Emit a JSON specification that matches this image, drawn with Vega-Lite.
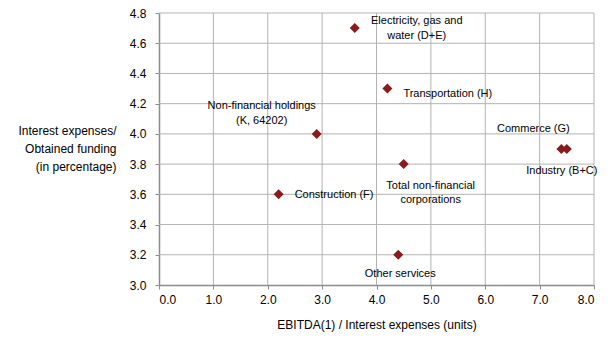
{
  "$schema": "https://vega.github.io/schema/vega-lite/v6.json",
  "width": 435,
  "height": 272,
  "autosize": "none",
  "padding": {"left": 159, "top": 13, "right": 17, "bottom": 55},
  "background": "white",
  "title": {"text": "September 2020", "fontWeight": "bold", "fontSize": 13, "font": "Liberation Sans", "offset": 10, "dx": 20, "color": "#000"},
  "config": {"view": {"stroke": null}},
  "datasets": {
    "points": [
      {"name": "Electricity", "x": 3.6, "y": 4.7},
      {"name": "Transportation", "x": 4.2, "y": 4.3},
      {"name": "Holdings", "x": 2.9, "y": 4.0},
      {"name": "Commerce", "x": 7.4, "y": 3.9},
      {"name": "Industry", "x": 7.5, "y": 3.9},
      {"name": "Total", "x": 4.5, "y": 3.8},
      {"name": "Construction", "x": 2.2, "y": 3.6},
      {"name": "Other", "x": 4.4, "y": 3.2}
    ],
    "gridx": [{"x": 1}, {"x": 2}, {"x": 3}, {"x": 4}, {"x": 5}, {"x": 6}, {"x": 7}, {"x": 8}],
    "gridy": [{"y": 3.2}, {"y": 3.4}, {"y": 3.6}, {"y": 3.8}, {"y": 4.0}, {"y": 4.2}, {"y": 4.4}, {"y": 4.6}, {"y": 4.8}]
  },
  "layer": [
    {"data": {"name": "gridx"}, "mark": {"type": "rule", "color": "#b3b3b3", "strokeWidth": 1},
      "encoding": {"x": {"field": "x", "type": "quantitative", "scale": {"domain": [0, 8], "nice": false},
        "axis": {"grid": false, "domainColor": "#8c8c8c", "domainWidth": 1.5, "tickColor": "#8c8c8c", "tickSize": 4, "labelFont": "Liberation Sans", "labelFontSize": 12, "labelColor": "#000", "titleFont": "Liberation Sans", "titleFontSize": 12, "titleFontWeight": "normal", "titleColor": "#000", "values": [0,1,2,3,4,5,6,7,8], "format": ".1f", "title": "EBITDA(1) / Interest expenses (units)", "titlePadding": 14, "labelPadding": 5}}}},
    {"data": {"name": "gridy"}, "mark": {"type": "rule", "color": "#b3b3b3", "strokeWidth": 1},
      "encoding": {"y": {"field": "y", "type": "quantitative", "scale": {"domain": [3.0, 4.8], "nice": false, "zero": false},
        "axis": {"grid": false, "domainColor": "#8c8c8c", "domainWidth": 1.5, "tickColor": "#8c8c8c", "tickSize": 4, "labelFont": "Liberation Sans", "labelFontSize": 12, "labelColor": "#000", "titleFont": "Liberation Sans", "titleFontSize": 12, "titleFontWeight": "normal", "titleColor": "#000", "values": [3.0,3.2,3.4,3.6,3.8,4.0,4.2,4.4,4.6,4.8], "format": ".1f", "labelPadding": 9,
            "title": ["Interest expenses/", "Obtained funding", "(in percentage)"], "titleAngle": 0, "titleAlign": "right", "titleBaseline": "top", "titleX": -43, "titleY": 112, "titleLineHeight": 18}}}},
    {"data": {"name": "points"},
      "encoding": {
        "x": {"field": "x", "type": "quantitative", "scale": {"domain": [0, 8], "nice": false},
          "axis": {"grid": false, "domainColor": "#8c8c8c", "domainWidth": 1.5, "tickColor": "#8c8c8c", "tickSize": 4, "labelFont": "Liberation Sans", "labelFontSize": 12, "labelColor": "#000", "titleFont": "Liberation Sans", "titleFontSize": 12, "titleFontWeight": "normal", "titleColor": "#000", "values": [0,1,2,3,4,5,6,7,8], "format": ".1f", "title": "EBITDA(1) / Interest expenses (units)", "titlePadding": 14, "labelPadding": 5}},
        "y": {"field": "y", "type": "quantitative", "scale": {"domain": [3.0, 4.8], "nice": false, "zero": false},
          "axis": {"grid": false, "domainColor": "#8c8c8c", "domainWidth": 1.5, "tickColor": "#8c8c8c", "tickSize": 4, "labelFont": "Liberation Sans", "labelFontSize": 12, "labelColor": "#000", "titleFont": "Liberation Sans", "titleFontSize": 12, "titleFontWeight": "normal", "titleColor": "#000", "values": [3.0,3.2,3.4,3.6,3.8,4.0,4.2,4.4,4.6,4.8], "format": ".1f", "labelPadding": 9,
            "title": ["Interest expenses/", "Obtained funding", "(in percentage)"], "titleAngle": 0, "titleAlign": "right", "titleBaseline": "top", "titleX": -43, "titleY": 112, "titleLineHeight": 18}}
      },
      "layer": [
        {"mark": {"type": "point", "shape": "diamond", "filled": true, "color": "#8B1A1A", "size": 100, "opacity": 1}},
        {"transform": [{"filter": "datum.name == 'Electricity'"}], "mark": {"type": "text", "font": "Liberation Sans", "fontSize": 11, "align": "center", "dx": 62, "dy": -7, "lineHeight": 15}, "encoding": {"text": {"value": ["Electricity, gas and", "water (D+E)"]}}},
        {"transform": [{"filter": "datum.name == 'Transportation'"}], "mark": {"type": "text", "font": "Liberation Sans", "fontSize": 11, "align": "left", "dx": 16, "dy": 5}, "encoding": {"text": {"value": "Transportation (H)"}}},
        {"transform": [{"filter": "datum.name == 'Holdings'"}], "mark": {"type": "text", "font": "Liberation Sans", "fontSize": 11, "align": "center", "dx": -55, "dy": -28, "lineHeight": 15}, "encoding": {"text": {"value": ["Non-financial holdings", "(K, 64202)"]}}},
        {"transform": [{"filter": "datum.name == 'Commerce'"}], "mark": {"type": "text", "font": "Liberation Sans", "fontSize": 11, "align": "center", "dx": -28, "dy": -20}, "encoding": {"text": {"value": "Commerce (G)"}}},
        {"transform": [{"filter": "datum.name == 'Industry'"}], "mark": {"type": "text", "font": "Liberation Sans", "fontSize": 11, "align": "center", "dx": -5, "dy": 22}, "encoding": {"text": {"value": "Industry (B+C)"}}},
        {"transform": [{"filter": "datum.name == 'Total'"}], "mark": {"type": "text", "font": "Liberation Sans", "fontSize": 11, "align": "center", "dx": 27, "dy": 22, "lineHeight": 14}, "encoding": {"text": {"value": ["Total non-financial", "corporations"]}}},
        {"transform": [{"filter": "datum.name == 'Construction'"}], "mark": {"type": "text", "font": "Liberation Sans", "fontSize": 11, "align": "left", "dx": 16, "dy": 1}, "encoding": {"text": {"value": "Construction (F)"}}},
        {"transform": [{"filter": "datum.name == 'Other'"}], "mark": {"type": "text", "font": "Liberation Sans", "fontSize": 11, "align": "center", "dx": 2, "dy": 19}, "encoding": {"text": {"value": "Other services"}}}
      ]
    }
  ]
}
